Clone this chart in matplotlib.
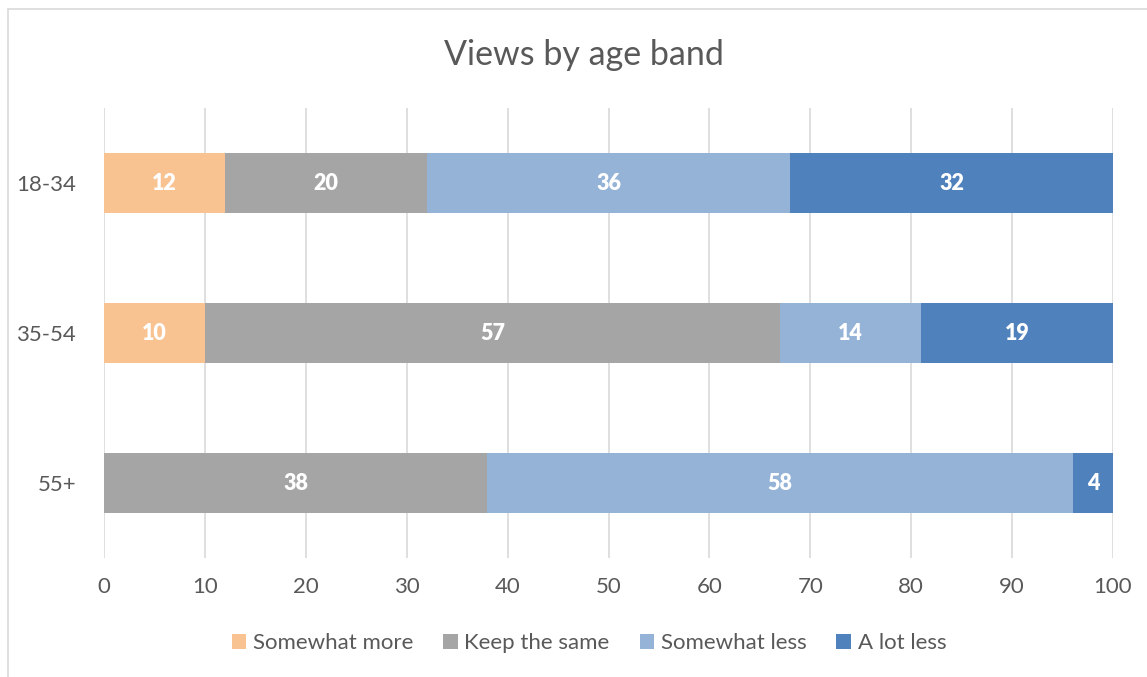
import numpy as np
import matplotlib.pyplot as plt
from matplotlib.patches import Rectangle

plt.rcParams['font.family'] = ['Lato', 'DejaVu Sans']

age_bands = ['18-34', '35-54', '55+']
series_names = ['Somewhat more', 'Keep the same', 'Somewhat less', 'A lot less']
somewhat_more = [12, 10, 0]
keep_same = [20, 57, 38]
somewhat_less = [36, 14, 58]
a_lot_less = [32, 19, 4]
colors = ['#F8C291', '#A5A5A5', '#95B3D7', '#4F81BD']
x_ticks = [0, 10, 20, 30, 40, 50, 60, 70, 80, 90, 100]

W, H = 1147, 677
fig = plt.figure(figsize=(W / 100, H / 100), dpi=100)
ax = fig.add_axes([104 / W, 1 - 558 / H, (1113 - 104) / W, (558 - 108) / H])

# chart border
fig.patches.append(Rectangle((8 / W, -0.1), 1.2, 1 - 9 / H + 0.1, transform=fig.transFigure,
                             fill=False, edgecolor='#D9D9D9', linewidth=1.2))

y = np.arange(len(age_bands))
left = np.zeros(len(age_bands))
for name, vals, col in zip(series_names,
                           [somewhat_more, keep_same, somewhat_less, a_lot_less], colors):
    vals = np.array(vals, dtype=float)
    bars = ax.barh(y, vals, left=left, height=0.4, color=col, label=name, zorder=3)
    for b, v in zip(bars, vals):
        if v > 0:
            ax.text(b.get_x() + b.get_width() / 2, b.get_y() + b.get_height() / 2, f'{int(v)}',
                    ha='center', va='center', color='white', fontsize=15.5, fontweight='heavy', zorder=4)
    left += vals

ax.set_xlim(0, 100)
ax.set_ylim(2.5, -0.5)
ax.set_xticks(x_ticks)
ax.set_yticks(y)
ax.set_yticklabels(age_bands)
ax.grid(axis='x', color='#D9D9D9', linewidth=1.2, zorder=0)
ax.set_axisbelow(True)
for s in ax.spines.values():
    s.set_visible(False)
ax.tick_params(length=0, colors='#595959', labelsize=16)
ax.tick_params(axis='x', pad=14)
ax.tick_params(axis='y', pad=20)

fig.text(584 / W, 1 - 55 / H, 'Views by age band', ha='center', va='center',
         fontsize=24.5, color='#595959')

leg = fig.legend(loc='center', bbox_to_anchor=(589 / W, 1 - 643 / H), ncol=4, frameon=False,
                 fontsize=16, handlelength=0.65, handleheight=0.65, handletextpad=0.3,
                 columnspacing=1.35, labelcolor='#595959')

fig.savefig('out.png', dpi=100)
